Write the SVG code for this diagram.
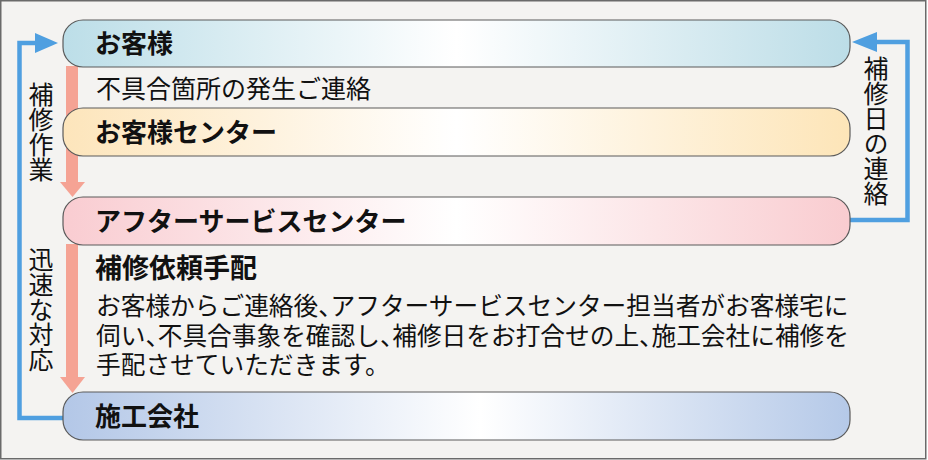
<svg xmlns="http://www.w3.org/2000/svg" width="928" height="460" viewBox="0 0 928 460">
<defs>
<style>
.pill{stroke:#5a5a5a;stroke-width:1.2}
.t{font-family:"Noto Sans CJK JP","Noto Sans CJK SC",sans-serif;fill:#111}
.b{font-weight:bold;font-size:26px}
.h{font-weight:bold;font-size:27px}
.n{font-size:24.7px;font-feature-settings:"halt" 1}
.n1{font-size:25px}
.v{font-size:25px;writing-mode:vertical-rl}
.blue{fill:none;stroke:#4f9fe0;stroke-width:4.5}
.bh{fill:#4f9fe0}
.sal{fill:#f5a394}
</style>
<linearGradient id="g1" x1="0" y1="0" x2="1" y2="0">
<stop offset="0" stop-color="#bcdee8"/><stop offset="0.5" stop-color="#ffffff"/><stop offset="1" stop-color="#bcdde7"/>
</linearGradient>
<linearGradient id="g2" x1="0" y1="0" x2="1" y2="0">
<stop offset="0" stop-color="#fde5bb"/><stop offset="0.5" stop-color="#ffffff"/><stop offset="1" stop-color="#fde5b8"/>
</linearGradient>
<linearGradient id="g3" x1="0" y1="0" x2="1" y2="0">
<stop offset="0" stop-color="#f9ccd1"/><stop offset="0.5" stop-color="#ffffff"/><stop offset="1" stop-color="#f9ccd0"/>
</linearGradient>
<linearGradient id="g4" x1="0" y1="0" x2="1" y2="0">
<stop offset="0" stop-color="#b3c7e7"/><stop offset="0.53" stop-color="#ffffff"/><stop offset="1" stop-color="#b5c9e8"/>
</linearGradient>
</defs>
<rect x="0.75" y="0.75" width="925" height="458" fill="#f4f3f1" stroke="#6a6a6a" stroke-width="1.5"/>

<g id="connectors">
<rect class="sal" x="66" y="66" width="12" height="117"/>
<polygon class="sal" points="60,182 85,182 72.5,197"/>
<rect class="sal" x="66" y="244" width="12" height="134"/>
<polygon class="sal" points="60,377 85,377 72.5,393"/>
<polyline class="blue" points="63,418 19.5,418 19.5,43 36,43"/>
<polygon class="bh" points="35,33 58,43 35,53"/>
<polyline class="blue" points="850,220 907.5,220 907.5,42 876,42"/>
<polygon class="bh" points="877,32 852,42 877,52"/>
</g>

<g id="node-customer">
<rect class="pill" x="63" y="20" width="787" height="47" rx="20" ry="20" fill="url(#g1)"/>
<text class="t b" x="95" y="53">お客様</text>
</g>
<text class="t n1" x="96" y="98">不具合箇所の発生ご連絡</text>
<g id="node-center">
<rect class="pill" x="63" y="108" width="787" height="48" rx="20" ry="20" fill="url(#g2)"/>
<text class="t b" x="95" y="141.5">お客様センター</text>
</g>
<g id="node-after">
<rect class="pill" x="63" y="197" width="787" height="48" rx="20" ry="20" fill="url(#g3)"/>
<text class="t b" x="95" y="230.5">アフターサービスセンター</text>
</g>
<g id="desc">
<text class="t h" x="95" y="278">補修依頼手配</text>
<text class="t n" x="96" y="315">お客様からご連絡後、アフターサービスセンター担当者がお客様宅に</text>
<text class="t n" x="96" y="344.5">伺い、不具合事象を確認し、補修日をお打合せの上、施工会社に補修を</text>
<text class="t n" x="96" y="374">手配させていただきます。</text>
</g>
<g id="node-builder">
<rect class="pill" x="63" y="392" width="787" height="48" rx="20" ry="20" fill="url(#g4)"/>
<text class="t b" x="95" y="425.5">施工会社</text>
</g>
<g id="labels">
<text class="t v" x="41" y="82">補修作業</text>
<text class="t v" x="41" y="247">迅速な対応</text>
<text class="t v" x="876" y="56">補修日の連絡</text>
</g>
</svg>
